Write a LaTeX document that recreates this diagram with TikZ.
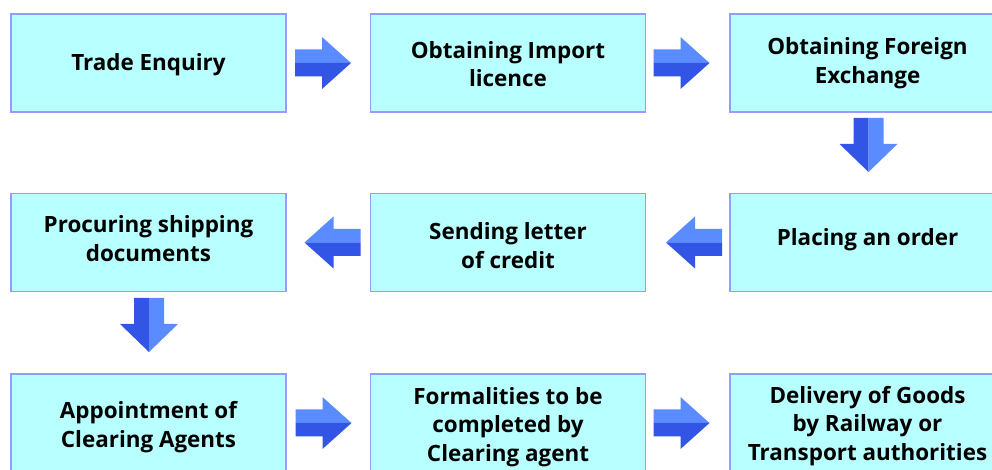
\documentclass[tikz,border=0pt]{standalone}
\usepackage{fontspec}
\setmainfont{Open Sans}
\definecolor{boxfill}{HTML}{B8FFFF}
\definecolor{boxline}{HTML}{9999FF}
\definecolor{arlight}{HTML}{5A8CFF}
\definecolor{ardark}{HTML}{3355E5}
% right-pointing block arrow centred at (#1,#2)
\newcommand\arrR[2]{%
  \fill[arlight] ({#1-28},{#2-13.5}) -- ({#1-1},{#2-13.5}) -- ({#1-1},{#2-26}) -- ({#1+28},{#2}) -- ({#1-28},{#2}) -- cycle;
  \fill[ardark] ({#1-28},{#2}) -- ({#1+28},{#2}) -- ({#1-1},{#2+26}) -- ({#1-1},{#2+13.5}) -- ({#1-28},{#2+13.5}) -- cycle;}
% left-pointing block arrow
\newcommand\arrL[2]{%
  \fill[arlight] ({#1+28},{#2-13.5}) -- ({#1+1},{#2-13.5}) -- ({#1+1},{#2-26}) -- ({#1-28},{#2}) -- ({#1+28},{#2}) -- cycle;
  \fill[ardark] ({#1+28},{#2}) -- ({#1-28},{#2}) -- ({#1+1},{#2+26}) -- ({#1+1},{#2+13.5}) -- ({#1+28},{#2+13.5}) -- cycle;}
% down-pointing block arrow
\newcommand\arrD[2]{%
  \fill[ardark] ({#1-15},{#2-27}) -- ({#1},{#2-27}) -- ({#1},{#2+27}) -- ({#1-29},{#2-1}) -- ({#1-15},{#2-1}) -- cycle;
  \fill[arlight] ({#1+15},{#2-27}) -- ({#1},{#2-27}) -- ({#1},{#2+27}) -- ({#1+29},{#2-1}) -- ({#1+15},{#2-1}) -- cycle;}
\begin{document}
\begin{tikzpicture}[x=1bp,y=-1bp,
  box/.style={draw=boxline, line width=1.2bp, fill=boxfill,
    minimum width=275bp, minimum height=98bp, inner sep=0pt, align=center,
    font=\bfseries\fontsize{22.5}{28.5}\selectfont},
  txt/.style={align=center, inner sep=0pt, font=\bfseries\fontsize{22.5}{28.5}\selectfont}]
\useasboundingbox (0,0) rectangle (992,470);
\fill[white] (0,0) rectangle (992,470);
\clip (0,0) rectangle (992,470);
% row 1
\node[box] (b1) at (148.5,63) {};
\node[txt] (t1) at ([yshift=-1.5bp]b1.center) {Trade Enquiry};
\node[box] (b2) at (508,63) {};
\node[txt] (t2) at ([yshift=-1bp]b2.center) {Obtaining Import\\licence};
\node[box] (b3) at (867.5,63) {};
\node[txt] (t3) at (b3.center) {Obtaining Foreign\\Exchange};
% row 2
\node[box] (b4) at (148.5,242.5) {};
\node[txt] (t4) at ([yshift=4bp]b4.center) {Procuring shipping\\documents};
\node[box] (b5) at (508,242.5) {};
\node[txt] (t5) at ([yshift=-3bp]b5.center) {Sending letter\\of credit};
\node[box] (b6) at (867.5,242.5) {};
\node[txt] (t6) at ([yshift=3bp]b6.center) {Placing an order};
% row 3
\node[box] (b7) at (148.5,423) {};
\node[txt] (t7) at ([yshift=-4bp]b7.center) {Appointment of\\Clearing Agents};
\node[box] (b8) at (508,423) {};
\node[txt] (t8) at ([yshift=-4bp]b8.center) {Formalities to be\\completed by\\Clearing agent};
\node[box] (b9) at (867.5,423) {};
\node[txt] (t9) at ([yshift=-3bp]b9.center) {Delivery of Goods\\by Railway or\\Transport authorities};
% arrows
\arrR{323}{63}
\arrR{681.5}{63}
\arrD{868.5}{145}
\arrL{694}{242.5}
\arrL{332.5}{242.5}
\arrD{149}{325}
\arrR{323.5}{423}
\arrR{681.5}{423}
\end{tikzpicture}
\end{document}
